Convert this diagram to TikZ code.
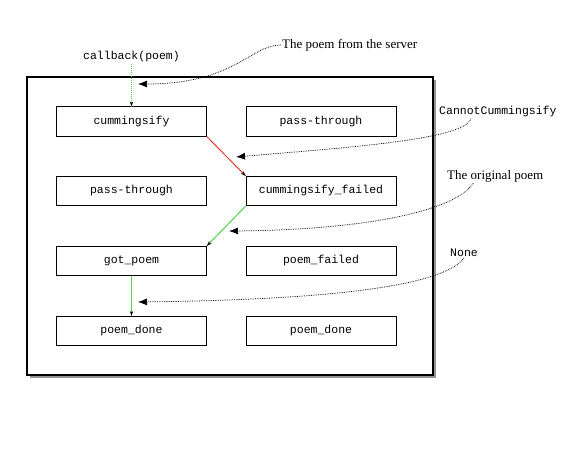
\documentclass[tikz,border=0pt]{standalone}
\usepackage{fontspec}
\setmainfont{Liberation Serif}
\setmonofont{Liberation Mono}
\usetikzlibrary{arrows.meta,shadows,decorations.markings}
\definecolor{flowgreen}{RGB}{80,210,80}
\definecolor{flowred}{RGB}{230,60,50}
\begin{document}
\begin{tikzpicture}[x=1pt,y=-1pt,
  state/.style={draw,fill=white,line width=0.8pt,minimum width=150pt,minimum height=29.5pt,inner sep=0pt,font=\ttfamily\fontsize{11.5}{13}\selectfont},
  lbl/.style={inner sep=1pt,font=\fontsize{13}{15}\selectfont},
  codelbl/.style={inner sep=1pt,font=\ttfamily\fontsize{11.5}{13}\selectfont},
  flow/.style={line width=1pt,decoration={markings,mark=at position 1 with {\arrow[black,solid]{Stealth[length=5pt,width=3.5pt]}}},postaction={decorate}},
  note/.style={line width=0.75pt,densely dotted,-{Latex[length=9pt,width=7pt]}}]
\useasboundingbox (0,0) rectangle (561,452);
\node[draw,fill=white,line width=2.2pt,minimum width=406pt,minimum height=298pt,inner sep=0pt,
  drop shadow={shadow xshift=3pt,shadow yshift=-3pt,opacity=0.7,fill=black!60}] (frame) at (230,226) {};
\node[state] (c1) at (131.5,121.5) {cummingsify};
\node[state] (p1) at (321,121.5) {pass-through};
\node[state] (p2) at (131.5,191) {pass-through};
\node[state] (cf) at (321,191) {cummingsify\_failed};
\node[state] (gp) at (131.5,261) {got\_poem};
\node[state] (pf) at (321,261) {poem\_failed};
\node[state] (d1) at (131.5,331) {poem\_done};
\node[state] (d2) at (321,331) {poem\_done};
\node[codelbl] (cb) at (131.5,57) {callback(poem)};
\node[lbl,anchor=west] (t1) at (281,45) {The poem from the server};
\node[codelbl,anchor=west] (t2) at (438,112) {CannotCummingsify};
\node[lbl,anchor=west] (t3) at (446,176) {The original poem};
\node[codelbl,anchor=west] (t4) at (449,253) {None};
\coordinate (a1) at (138,84);
\coordinate (a2) at (236,157);
\coordinate (a3) at (229,231);
\coordinate (a4) at (138,302);
\draw[flow,flowgreen,densely dotted] (cb.south) -- (c1.north);
\draw[flow,flowred] (c1.south east) -- (cf.north west);
\draw[flow,flowgreen] (cf.south west) -- (gp.north east);
\draw[flow,flowgreen] (gp.south) -- (d1.north);
\draw[note] (t1.west) .. controls (250,45) and (235,84) .. (a1);
\draw[note] ([xshift=-27pt]t2.south) .. controls (466,140) and (340,148) .. (a2);
\draw[note] ([xshift=-22pt]t3.south) .. controls (455,212) and (360,230) .. (a3);
\draw[note] ([xshift=0pt]t4.south) .. controls (440,290) and (300,300) .. (a4);
\end{tikzpicture}
\end{document}
